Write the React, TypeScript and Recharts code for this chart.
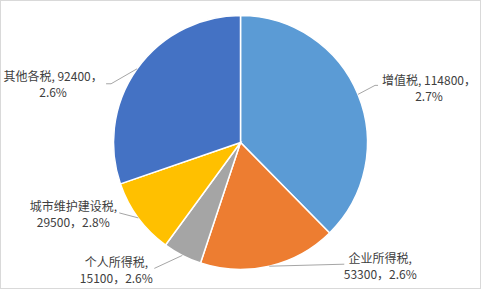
import React from 'react';
import { PieChart, Pie, Cell } from 'recharts';

const TAX_NAMES = ['增值税', '企业所得税', '个人所得税', '城市维护建设税', '其他各税'];
const TAX_VALUES = [114800, 53300, 15100, 29500, 92400];
const TAX_PCTS = ['2.7%', '2.6%', '2.6%', '2.8%', '2.6%'];
const COLORS = ['#5B9BD5', '#ED7D31', '#A5A5A5', '#FFC000', '#4472C4'];

// label text lines per slice
const LABEL_LINES = [
  [`${TAX_NAMES[0]}, ${TAX_VALUES[0]}，`, TAX_PCTS[0]],
  [`${TAX_NAMES[1]},`, `${TAX_VALUES[1]}，${TAX_PCTS[1]}`],
  [`${TAX_NAMES[2]},`, `${TAX_VALUES[2]}，${TAX_PCTS[2]}`],
  [`${TAX_NAMES[3]},`, `${TAX_VALUES[3]}，${TAX_PCTS[3]}`],
  [`${TAX_NAMES[4]}, ${TAX_VALUES[4]}，`, TAX_PCTS[4]],
];

// leader line bends and text centre, relative to the slice edge point
const LABEL_LAYOUT = [
  { pts: [[17, -9], [20, -9]], text: [71, -7] },
  { pts: [[75, -2]], text: [111, -1] },
  { pts: [[-28, 13]], text: [-66, 14] },
  { pts: [[-19, -5]], text: [-65, -4] },
  { pts: [[-26, 15], [-31, 15]], text: [-84, 15] },
];

const data = TAX_NAMES.map((name, i) => ({ name, value: TAX_VALUES[i] }));

const RAD = Math.PI / 180;

const renderLabel = (props: any) => {
  const { cx, cy, midAngle, outerRadius, index } = props;
  const ex = cx + outerRadius * Math.cos(-midAngle * RAD);
  const ey = cy + outerRadius * Math.sin(-midAngle * RAD);
  const layout = LABEL_LAYOUT[index];
  const pts = [[ex, ey], ...layout.pts.map(([dx, dy]) => [ex + dx, ey + dy])];
  const tx = ex + layout.text[0];
  const ty = ey + layout.text[1];
  return (
    <g>
      <polyline points={pts.map((p) => p.join(',')).join(' ')} fill="none" stroke="#A6A6A6" strokeWidth={1} />
      {LABEL_LINES[index].map((line, k) => (
        <text
          key={k}
          x={tx}
          y={ty + (k === 0 ? -8 : 8)}
          textAnchor="middle"
          dominantBaseline="central"
          fontSize={12}
          fill="#404040"
          fontFamily='"Noto Sans CJK SC", "Noto Sans", sans-serif'
        >
          {line}
        </text>
      ))}
    </g>
  );
};

export default function App() {
  return (
    <div
      style={{
        position: 'absolute',
        left: 0,
        top: 0,
        width: 479,
        height: 287,
        border: '1px solid #D9D9D9',
        background: '#fff',
      }}
    >
      <PieChart width={479} height={287} margin={{ top: 0, right: 0, bottom: 0, left: 0 }}>
        <Pie
          data={data}
          dataKey="value"
          nameKey="name"
          cx={239.5}
          cy={141.5}
          outerRadius={127}
          startAngle={90}
          endAngle={-270}
          stroke="#fff"
          strokeWidth={1.5}
          label={renderLabel}
          labelLine={false}
          isAnimationActive={false}
        >
          {data.map((d, i) => (
            <Cell key={d.name} fill={COLORS[i]} />
          ))}
        </Pie>
      </PieChart>
    </div>
  );
}
